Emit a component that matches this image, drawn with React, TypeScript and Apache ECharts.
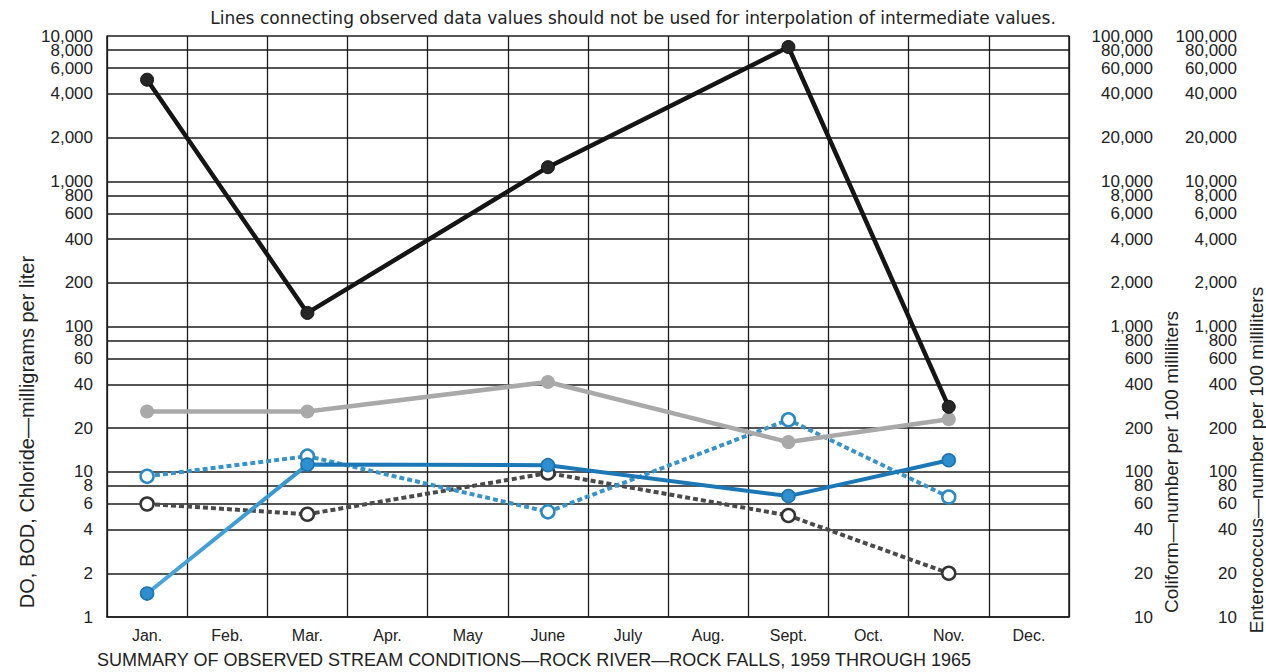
import React, { useEffect, useRef } from "react";
import * as echarts from "echarts";

const months = ["Jan.", "Feb.", "Mar.", "Apr.", "May", "June", "July", "Aug.", "Sept.", "Oct.", "Nov.", "Dec."];
const leftTicks = [1, 2, 4, 6, 8, 10, 20, 40, 60, 80, 100, 200, 400, 600, 800, 1000, 2000, 4000, 6000, 8000, 10000];
const rightTicks = [10, 20, 40, 60, 80, 100, 200, 400, 600, 800, 1000, 2000, 4000, 6000, 8000, 10000, 20000, 40000, 60000, 80000, 100000];

// Coliform (number per 100 ml) — right axis
const coliform = [50000, null, 1240, null, null, 12500, null, null, 84000, null, 280, null];
// Chloride (mg/l) — left axis
const chloride = [26, null, 26, null, null, 41.5, null, null, 16, null, 23, null];
// DO (mg/l) — left axis
const dissolvedOxygen = [1.45, null, 11.2, null, null, 11.1, null, null, 6.8, null, 12, null];
// Enterococcus (number per 100 ml) — far right axis
const enterococcus = [93, null, 128, null, null, 53, null, null, 228, null, 67, null];
// BOD (mg/l) — left axis
const bod = [6, null, 5.1, null, null, 9.8, null, null, 5, null, 2, null];

const titleTop = "Lines connecting observed data values should not be used for interpolation of intermediate values.";
const titleBottom = "SUMMARY OF OBSERVED STREAM CONDITIONS\u2014ROCK RIVER\u2014ROCK FALLS, 1959 THROUGH 1965";
const leftName = "DO, BOD, Chloride\u2014milligrams per liter";
const coliformName = "Coliform\u2014number per 100 milliliters";
const enteroName = "Enterococcus\u2014number per 100 milliliters";

const FONT = "'Liberation Sans', Arial, sans-serif";
const fmt = (v: number) => Number(v).toLocaleString("en-US");

export default function App() {
  const ref = useRef<HTMLDivElement>(null);
  useEffect(() => {
    if (!ref.current) return;
    const chart = echarts.init(ref.current, undefined, { renderer: "svg" });
    const gridColor = "#1c1c1c";
    // ECharts hides one of the two last labels when they touch; the next-to-last
    // label of each scale is therefore drawn by a twin axis sharing the same scale.
    const leftSecondLast = leftTicks[leftTicks.length - 2];
    const rightSecondLast = rightTicks[rightTicks.length - 2];
    const leftMain = leftTicks.filter((v) => v !== leftSecondLast);
    const rightMain = rightTicks.filter((v) => v !== rightSecondLast);
    const lbl = { color: "#222", fontSize: 17, fontFamily: FONT, showMinLabel: true, showMaxLabel: true, formatter: fmt };
    const twin = (min: number, max: number, pos: string, values: number[], extra: any) => ({
      type: "log",
      logBase: 10,
      min,
      max,
      position: pos,
      axisLine: { show: false },
      axisTick: { show: false, customValues: values },
      splitLine: { show: false },
      axisLabel: { ...lbl, customValues: values, ...extra },
    });
    const option: any = {
      animation: false,
      backgroundColor: "#ffffff",
      textStyle: { fontFamily: FONT },
      grid: { left: 107, right: 197, top: 36, bottom: 55, containLabel: false },
      graphic: [
        { type: "text", x: 633, y: 18, style: { text: titleTop, font: `17px 'DejaVu Sans', ${FONT}`, fill: "#222", align: "center", verticalAlign: "middle" } },
        { type: "text", x: 534, y: 660, style: { text: titleBottom, font: `18px ${FONT}`, fill: "#222", align: "center", verticalAlign: "middle" } },
        { type: "text", x: 27, y: 432, rotation: Math.PI / 2, style: { text: leftName, font: `20px ${FONT}`, fill: "#222", align: "center", verticalAlign: "middle" } },
        { type: "text", x: 1171, y: 462, rotation: Math.PI / 2, style: { text: coliformName, font: `19px ${FONT}`, fill: "#222", align: "center", verticalAlign: "middle" } },
        { type: "text", x: 1256, y: 460, rotation: Math.PI / 2, style: { text: enteroName, font: `19px ${FONT}`, fill: "#222", align: "center", verticalAlign: "middle" } },
      ],
      xAxis: {
        type: "category",
        data: months,
        boundaryGap: true,
        axisLine: { show: true, lineStyle: { color: gridColor, width: 1.5 } },
        axisTick: { show: false },
        axisLabel: { interval: 0, color: "#222", fontSize: 16, margin: 10, fontFamily: FONT },
        splitLine: { show: true, interval: 0, lineStyle: { color: gridColor, width: 1.3 } },
      },
      yAxis: [
        {
          type: "log",
          logBase: 10,
          min: 1,
          max: 10000,
          position: "left",
          axisLine: { show: true, lineStyle: { color: gridColor, width: 1.5 } },
          axisTick: { show: false, customValues: leftTicks },
          axisLabel: { ...lbl, customValues: leftMain, margin: 14 },
          splitLine: { show: true, lineStyle: { color: gridColor, width: 1.5 } },
        },
        {
          type: "log",
          logBase: 10,
          min: 10,
          max: 100000,
          position: "right",
          axisLine: { show: true, lineStyle: { color: gridColor, width: 1.5 } },
          axisTick: { show: false, customValues: rightTicks },
          axisLabel: { ...lbl, customValues: rightMain, margin: 84, align: "right" },
          splitLine: { show: false },
        },
        twin(10, 100000, "right", rightMain, { margin: 168, align: "right" }),
        twin(1, 10000, "left", [leftSecondLast], { margin: 14 }),
        twin(10, 100000, "right", [rightSecondLast], { margin: 84, align: "right" }),
        twin(10, 100000, "right", [rightSecondLast], { margin: 168, align: "right" }),
      ],
      series: [
        {
          name: "BOD",
          type: "line",
          yAxisIndex: 0,
          data: bod,
          connectNulls: true,
          symbol: "circle",
          symbolSize: 13,
          itemStyle: { color: "#ffffff", borderColor: "#333333", borderWidth: 2.5 },
          lineStyle: { color: "#4a4a4a", width: 4, type: [5, 3] },
          z: 3,
        },
        {
          name: "Enterococcus",
          type: "line",
          yAxisIndex: 2,
          data: enterococcus,
          connectNulls: true,
          symbol: "circle",
          symbolSize: 13,
          itemStyle: { color: "#ffffff", borderColor: "#2a88c2", borderWidth: 2.5 },
          lineStyle: { color: "#3a93c8", width: 4, type: [5, 3] },
          z: 4,
        },
        {
          name: "DO",
          type: "line",
          yAxisIndex: 0,
          data: dissolvedOxygen,
          connectNulls: true,
          symbol: "circle",
          symbolSize: 13,
          itemStyle: { color: "#2d8fcf", borderColor: "#1b72ad", borderWidth: 1.5 },
          lineStyle: {
            width: 4,
            color: new echarts.graphic.LinearGradient(0, 0, 1, 0, [
              { offset: 0, color: "#4aa6dc" },
              { offset: 0.19, color: "#3596d0" },
              { offset: 0.22, color: "#1b77b6" },
              { offset: 1, color: "#1b77b6" },
            ]),
          },
          z: 5,
        },
        {
          name: "Chloride",
          type: "line",
          yAxisIndex: 0,
          data: chloride,
          connectNulls: true,
          symbol: "circle",
          symbolSize: 14,
          itemStyle: { color: "#a9a9a9" },
          lineStyle: { color: "#a9a9a9", width: 4.5 },
          z: 6,
        },
        {
          name: "Coliform",
          type: "line",
          yAxisIndex: 1,
          data: coliform,
          connectNulls: true,
          symbol: "circle",
          symbolSize: 13,
          itemStyle: { color: "#262626", borderColor: "#111", borderWidth: 1 },
          lineStyle: { color: "#151515", width: 4.5 },
          z: 7,
        },
      ],
    };
    chart.setOption(option);
    return () => chart.dispose();
  }, []);
  return <div ref={ref} style={{ position: "fixed", left: 0, top: 0, width: 1266, height: 672 }} />;
}
